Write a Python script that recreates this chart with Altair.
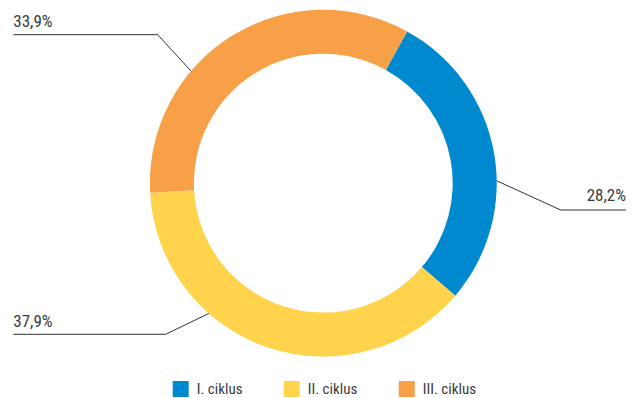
import math
import altair as alt
import pandas as pd

# ---- data ----
categories = ["I. ciklus", "II. ciklus", "III. ciklus"]
shares = [28.2, 37.9, 33.9]
colors = ["#0089CF", "#FFD44C", "#F7A048"]

# ---- layout (chart pixel coordinates, not data) ----
CX, CY = 315.3, 175.2
R_OUT, R_IN = 173.4, 129.4
START_DEG = 28.9
leader_angle_deg = [89.2, 221.3, 310.3]          # where each leader touches the ring
leader_elbow = [(552.7, 202.0), (157.7, 326.3), (149.7, 26.7)]
leader_end = [(618.0, 202.0), (5.3, 326.3), (5.3, 26.7)]
label_pos = [(618.0, 192.7, "right"), (5.3, 319.3, "left"), (5.3, 19.3, "left")]

FONT = "Liberation Sans Narrow, Arial Narrow, Roboto Condensed, Roboto, sans-serif"

df = pd.DataFrame({"cat": categories, "share": shares, "order": range(len(categories))})

start = math.radians(START_DEG)
donut = alt.Chart(df).mark_arc(outerRadius=R_OUT, innerRadius=R_IN).encode(
    theta=alt.Theta("share:Q", stack=True, scale=alt.Scale(range=[start, start + 2 * math.pi])),
    order=alt.Order("order:Q"),
    color=alt.Color(
        "cat:N",
        scale=alt.Scale(domain=categories, range=colors),
        legend=alt.Legend(
            title=None,
            orient="none",
            direction="horizontal",
            legendX=164.7,
            legendY=373,
            symbolType="square",
            symbolSize=256,
            symbolStrokeWidth=0,
            symbolOpacity=1,
            labelFont=FONT,
            labelFontSize=15,
            labelColor="#3a3a3a",
            labelOffset=8,
            columnPadding=41,
            padding=0,
        ),
    ),
    x=alt.value(CX),
    y=alt.value(CY),
)

# leader lines
rows = []
for i, cat in enumerate(categories):
    a = math.radians(leader_angle_deg[i])
    sx, sy = CX + R_OUT * math.sin(a), CY - R_OUT * math.cos(a)
    pts = [(sx, sy), leader_elbow[i], leader_end[i]]
    for j, (px, py) in enumerate(pts):
        rows.append({"cat": cat, "seq": j, "px": px, "py": py})
lines_df = pd.DataFrame(rows)

leaders = alt.Chart(lines_df).mark_line(color="#333333", strokeWidth=1).encode(
    x=alt.X("px:Q", scale=None),
    y=alt.Y("py:Q", scale=None),
    detail="cat:N",
    order="seq:Q",
)

lab_df = pd.DataFrame({
    "cat": categories,
    "txt": [f"{v:.1f}".replace(".", ",") + "%" for v in shares],
    "lx": [p[0] for p in label_pos],
    "ly": [p[1] for p in label_pos],
    "al": [p[2] for p in label_pos],
})

labels_left = alt.Chart(lab_df).transform_filter("datum.al == 'left'").mark_text(
    align="left", baseline="alphabetic", font=FONT, fontSize=17, color="#3a3a3a"
).encode(x=alt.X("lx:Q", scale=None), y=alt.Y("ly:Q", scale=None), text="txt:N")

labels_right = alt.Chart(lab_df).transform_filter("datum.al == 'right'").mark_text(
    align="right", baseline="alphabetic", font=FONT, fontSize=17, color="#3a3a3a"
).encode(x=alt.X("lx:Q", scale=None), y=alt.Y("ly:Q", scale=None), text="txt:N")

chart = alt.layer(donut, leaders, labels_left, labels_right).properties(
    width=620, height=390, padding=0, autosize=alt.AutoSizeParams(type="none")
).configure_view(stroke=None)

chart.save("out.html", embed_options={"renderer": "svg", "actions": False})
